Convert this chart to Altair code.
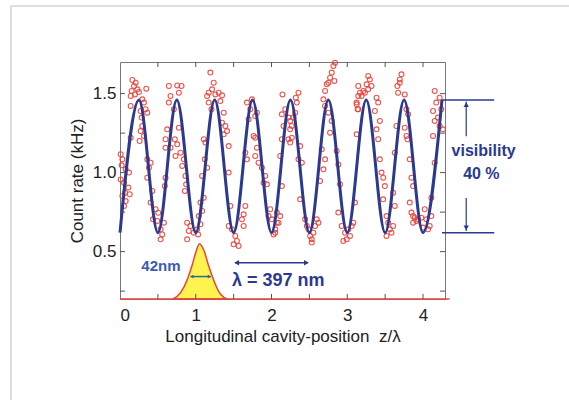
import altair as alt
import pandas as pd

FONT = "Liberation Sans"
NAVY = "#2b3990"
RED = "#e8433a"

# measured count rates (z/lambda, kHz)
count_points = [
    (0.163, 1.586), (0.207, 1.569), (0.185, 1.548), (0.229, 1.527), (0.154, 1.517), (0.250, 1.510),
    (0.141, 1.485), (0.198, 1.495), (0.347, 1.531), (0.294, 1.464), (0.316, 1.443), (0.141, 1.422),
    (0.338, 1.401), (0.272, 1.390), (0.360, 1.379), (0.286, 1.348), (0.294, 1.295), (0.272, 1.263),
    (0.316, 1.232), (0.259, 1.200), (0.009, 1.116), (0.031, 1.084), (0.022, 1.046), (0.075, 1.021),
    (0.009, 0.957), (0.053, 0.936), (0.110, 0.905), (0.066, 0.873), (0.031, 0.852), (0.075, 0.820),
    (0.128, 0.863), (0.141, 1.221), (0.053, 0.789), (0.119, 1.000), (0.360, 1.084), (0.404, 1.063),
    (0.382, 1.031), (0.360, 0.968), (0.426, 0.884), (0.404, 0.810), (0.470, 0.768), (0.505, 0.746),
    (0.435, 0.704), (0.492, 0.694), (0.536, 0.641), (0.579, 0.683), (0.557, 0.609), (0.536, 0.578),
    (0.645, 1.548), (0.755, 1.552), (0.812, 1.548), (0.667, 1.485), (0.777, 1.506), (0.645, 1.443),
    (0.711, 1.401), (0.623, 1.274), (0.777, 1.284), (0.601, 1.211), (0.724, 1.211), (0.755, 1.179),
    (0.667, 1.158), (0.733, 1.105), (0.799, 1.126), (0.843, 1.084), (0.821, 1.042), (0.864, 0.979),
    (0.873, 0.926), (0.856, 0.884), (0.601, 1.158), (0.601, 0.968), (0.592, 0.915), (0.886, 0.683),
    (0.930, 0.662), (0.974, 0.620), (0.908, 0.631), (0.886, 0.578),
    (1.018, 0.641), (1.062, 0.673), (1.040, 0.725), (1.084, 0.757), (1.031, 0.609), (1.062, 0.810),
    (1.106, 0.841), (1.084, 0.979), (1.119, 1.084), (1.150, 1.031), (1.128, 1.190), (1.106, 1.211),
    (1.171, 1.506), (1.193, 1.633), (1.237, 1.569), (1.215, 1.527), (1.150, 1.485), (1.171, 1.443),
    (1.207, 1.401), (1.259, 1.495), (1.303, 1.506), (1.347, 1.489), (1.325, 1.453), (1.369, 1.379),
    (1.347, 1.316), (1.391, 1.295), (1.413, 1.263), (1.435, 1.168), (1.369, 1.242), (1.435, 1.000),
    (1.457, 0.789), (1.435, 0.662), (1.478, 0.641), (1.522, 0.599), (1.544, 0.567), (1.500, 0.546),
    (1.566, 0.536), (1.632, 0.662), (1.654, 0.789), (1.632, 0.736), (1.610, 0.704), (1.676, 1.443),
    (1.720, 1.401), (1.698, 1.337), (1.742, 1.464), (1.785, 1.358), (1.764, 1.232), (1.807, 1.158),
    (1.785, 1.105), (1.829, 1.063), (1.873, 1.031), (1.917, 0.979), (1.939, 0.926), (1.895, 0.936),
    (1.654, 1.126), (1.676, 1.084), (1.785, 1.221), (1.807, 1.379), (1.983, 0.768), (2.005, 0.704),
    (2.049, 0.641), (2.027, 0.609), (2.071, 0.683), (1.961, 0.725),
    (2.071, 0.747), (2.093, 0.683), (2.049, 0.620), (2.115, 0.725), (2.137, 0.915), (2.115, 1.105),
    (2.137, 1.211), (2.159, 1.295), (2.137, 1.369), (2.145, 1.495), (2.181, 1.401), (2.224, 1.348),
    (2.246, 1.327), (2.268, 1.295), (2.290, 1.348), (2.312, 1.379), (2.334, 1.443), (2.356, 1.506),
    (2.321, 1.474), (2.246, 1.190), (2.224, 1.211), (2.246, 1.274), (2.268, 1.221), (2.378, 1.168),
    (2.400, 1.063), (2.356, 1.084), (2.378, 0.831), (2.444, 0.704), (2.466, 0.662), (2.488, 0.641),
    (2.510, 0.599), (2.531, 0.578), (2.553, 0.620), (2.575, 0.662), (2.597, 0.704), (2.619, 0.683),
    (2.531, 0.557), (2.707, 1.517), (2.729, 1.559), (2.751, 1.569), (2.773, 1.601), (2.795, 1.633),
    (2.817, 1.675), (2.838, 1.696), (2.830, 1.580), (2.685, 1.464), (2.707, 1.422), (2.751, 1.379),
    (2.795, 1.327), (2.773, 1.253), (2.663, 1.147), (2.707, 1.084), (2.685, 1.021), (2.641, 0.947),
    (2.860, 1.137), (2.882, 1.052), (2.904, 0.926), (2.882, 0.747), (2.926, 0.662), (2.970, 0.620),
    (2.992, 0.578), (2.948, 0.567), (3.014, 0.641), (3.058, 0.662), (3.080, 0.683), (3.036, 0.599),
    (3.102, 0.810), (3.124, 1.242), (3.137, 1.401), (3.124, 1.432), (3.145, 1.485),
    (3.145, 1.548), (3.167, 1.506), (3.123, 1.443), (3.145, 1.401), (3.189, 1.485), (3.211, 1.517),
    (3.255, 1.559), (3.276, 1.612), (3.298, 1.590), (3.276, 1.527), (3.320, 1.548), (3.233, 1.506),
    (3.386, 1.474), (3.408, 1.443), (3.364, 1.390), (3.430, 1.327), (3.386, 1.274), (3.408, 1.211),
    (3.430, 1.084), (3.452, 1.000), (3.474, 0.968), (3.496, 0.915), (3.474, 0.831), (3.518, 0.725),
    (3.540, 0.683), (3.562, 0.641), (3.518, 0.599), (3.583, 0.620), (3.605, 0.662), (3.627, 0.789),
    (3.605, 0.873), (3.627, 1.126), (3.649, 1.295), (3.671, 1.506), (3.662, 1.548), (3.693, 1.590),
    (3.715, 1.622), (3.693, 1.569), (3.759, 1.495), (3.781, 1.401), (3.803, 1.369), (3.759, 1.284),
    (3.781, 1.232), (3.794, 1.211), (3.825, 1.084), (3.847, 0.968), (3.869, 0.915), (3.825, 0.810),
    (3.847, 0.747), (3.869, 0.725), (3.890, 0.715), (3.912, 0.694), (3.869, 0.683), (3.934, 0.704),
    (3.978, 0.715), (4.022, 0.768), (4.044, 0.704), (4.000, 0.652), (4.066, 0.641), (4.088, 0.662),
    (4.110, 0.725), (4.110, 0.841), (4.154, 1.063), (4.132, 1.232), (4.154, 1.327), (4.132, 1.390),
    (4.175, 1.443), (4.154, 1.517), (4.219, 1.474), (4.241, 1.401), (4.219, 1.295), (4.197, 1.348),
    (4.263, 1.274),
]

# fitted curve: extrema
fit_x = [0.0, 0.25, 0.5, 0.75, 1.0, 1.25, 1.5, 1.75, 2.0, 2.25, 2.5, 2.75, 3.0, 3.25, 3.5, 3.75, 4.0, 4.25]
fit_y = [0.62, 1.46, 0.62, 1.46, 0.62, 1.46, 0.62, 1.46, 0.62, 1.46, 0.62, 1.46, 0.62, 1.46, 0.62, 1.46, 0.62, 1.46]

# wave-packet outline
packet_x = [0.70, 0.80, 0.89, 0.95, 1.00, 1.05, 1.11, 1.17, 1.24, 1.30, 1.37, 1.42]
packet_y = [0.20, 0.24, 0.325, 0.41, 0.495, 0.55, 0.505, 0.41, 0.315, 0.25, 0.21, 0.20]

x_label_values = [0, 1, 2, 3, 4]
y_label_values = [0.5, 1.0, 1.5]
x_tick_values = [0.5, 1.0, 1.5, 2.0, 2.5, 3.0, 3.5, 4.0]
y_tick_values = [0.25, 0.5, 0.75, 1.0, 1.25, 1.5]

X_MIN, X_MAX = 0.0, 4.29
Y_MIN, Y_MAX = 0.2, 1.7

xs = alt.Scale(domain=[X_MIN, X_MAX], nice=False, zero=False)
ys = alt.Scale(domain=[Y_MIN, Y_MAX], nice=False, zero=False)
x_title = "Longitudinal cavity-position\u00a0 z/λ"
y_title = "Count rate (kHz)"
x_axis = alt.Axis(values=x_label_values, format="d", ticks=False, domain=False, grid=False,
                  labelPadding=8, titlePadding=5)
y_axis = alt.Axis(values=y_label_values, format=".1f", ticks=False, domain=False, grid=False,
                  labelPadding=4, titlePadding=6)


def X(f):
    return alt.X(f, type="quantitative", scale=xs, axis=x_axis, title=x_title)


def Y(f):
    return alt.Y(f, type="quantitative", scale=ys, axis=y_axis, title=y_title)


pts_df = pd.DataFrame(count_points, columns=["z", "rate"])
fit_df = pd.DataFrame({"z": fit_x, "rate": fit_y})
packet_df = pd.DataFrame({"z": packet_x, "rate": packet_y, "base": [Y_MIN] * len(packet_x)})

# outer frame (decorative)
frame = alt.Chart(pd.DataFrame({"a": [0]})).mark_rect(
    fillOpacity=0, stroke="#d4d4d4", strokeWidth=1.5
).encode(x=alt.value(-109), x2=alt.value(500), y=alt.value(-56), y2=alt.value(400))

points = alt.Chart(pts_df).mark_point(
    shape="circle", filled=False, color=RED, size=24, strokeWidth=1.1, opacity=0.9
).encode(x=X("z"), y=Y("rate"))

fit = alt.Chart(fit_df).mark_line(
    interpolate="monotone", color=NAVY, strokeWidth=3
).encode(x=X("z"), y=Y("rate"))

packet = alt.Chart(packet_df).mark_area(
    interpolate="monotone", color="#fff34f", stroke=RED, strokeWidth=1.5
).encode(x=X("z"), y=Y("rate"), y2=alt.Y2("base"))

baseline = alt.Chart(pd.DataFrame({"z": [X_MIN], "z2": [4.35], "rate": [Y_MIN]})).mark_rule(
    color=RED, strokeWidth=1.5
).encode(x=X("z"), x2=alt.X2("z2"), y=Y("rate"))

# inward ticks
tick_len_x = 0.066
tick_len_y = 0.032
bt = pd.DataFrame({"z": x_tick_values, "r0": Y_MIN, "r1": Y_MIN + tick_len_y})
tt = pd.DataFrame({"z": x_tick_values, "r0": Y_MAX, "r1": Y_MAX - tick_len_y})
lt = pd.DataFrame({"rate": y_tick_values, "z0": X_MIN, "z1": X_MIN + tick_len_x})
rt = pd.DataFrame({"rate": y_tick_values, "z0": X_MAX, "z1": X_MAX - tick_len_x})
tick_style = dict(color="#555", strokeWidth=1)
ticks = (
    alt.Chart(bt).mark_rule(**tick_style).encode(x=X("z"), y=Y("r0"), y2=alt.Y2("r1"))
    + alt.Chart(tt).mark_rule(**tick_style).encode(x=X("z"), y=Y("r0"), y2=alt.Y2("r1"))
    + alt.Chart(lt).mark_rule(**tick_style).encode(y=Y("rate"), x=X("z0"), x2=alt.X2("z1"))
    + alt.Chart(rt).mark_rule(**tick_style).encode(y=Y("rate"), x=X("z0"), x2=alt.X2("z1"))
)

# visibility annotation
vis_lines = pd.DataFrame({"z": [4.25, 4.25], "z2": [4.94, 4.94], "rate": [1.46, 0.62]})
vis_arrows = pd.DataFrame({"z": [4.57, 4.57], "rate": [1.23, 0.84], "rate2": [1.45, 0.63]})
vis_heads_up = pd.DataFrame({"z": [4.57], "rate": [1.43]})
vis_heads_dn = pd.DataFrame({"z": [4.57], "rate": [0.65]})
ann_style = dict(color=NAVY, strokeWidth=1.5)
vis = (
    alt.Chart(vis_lines).mark_rule(**ann_style).encode(x=X("z"), x2=alt.X2("z2"), y=Y("rate"))
    + alt.Chart(vis_arrows).mark_rule(color=NAVY, strokeWidth=1.2).encode(x=X("z"), y=Y("rate"), y2=alt.Y2("rate2"))
    + alt.Chart(vis_heads_up).mark_point(shape="triangle-up", filled=True, color=NAVY, size=28, opacity=1).encode(x=X("z"), y=Y("rate"))
    + alt.Chart(vis_heads_dn).mark_point(shape="triangle-down", filled=True, color=NAVY, size=28, opacity=1).encode(x=X("z"), y=Y("rate"))
)

# wavelength arrow
lam_line = pd.DataFrame({"z": [1.52], "z2": [2.48], "rate": [0.43]})
lam_l = pd.DataFrame({"z": [1.54], "rate": [0.43]})
lam_r = pd.DataFrame({"z": [2.46], "rate": [0.43]})
lam = (
    alt.Chart(lam_line).mark_rule(color=NAVY, strokeWidth=1.5).encode(x=X("z"), x2=alt.X2("z2"), y=Y("rate"))
    + alt.Chart(lam_l).mark_point(shape="triangle-left", filled=True, color=NAVY, size=30, opacity=1).encode(x=X("z"), y=Y("rate"))
    + alt.Chart(lam_r).mark_point(shape="triangle-right", filled=True, color=NAVY, size=30, opacity=1).encode(x=X("z"), y=Y("rate"))
)

# 42 nm width arrow
TEAL = "#2f6a8c"
w_line = pd.DataFrame({"z": [0.93], "z2": [1.20], "rate": [0.342]})
w_l = pd.DataFrame({"z": [0.95], "rate": [0.342]})
w_r = pd.DataFrame({"z": [1.18], "rate": [0.342]})
width_arrow = (
    alt.Chart(w_line).mark_rule(color=TEAL, strokeWidth=1.5).encode(x=X("z"), x2=alt.X2("z2"), y=Y("rate"))
    + alt.Chart(w_l).mark_point(shape="triangle-left", filled=True, color=TEAL, size=14, opacity=1).encode(x=X("z"), y=Y("rate"))
    + alt.Chart(w_r).mark_point(shape="triangle-right", filled=True, color=TEAL, size=14, opacity=1).encode(x=X("z"), y=Y("rate"))
)

labels_df = pd.DataFrame({
    "z": [4.80, 4.77, 2.09, 0.54],
    "rate": [1.137, 0.99, 0.314, 0.407],
    "txt": ["visibility", "40 %", "λ = 397 nm", "42nm"],
    "size": [16, 16, 18, 15],
    "col": [NAVY, NAVY, NAVY, "#3a5cb0"],
})
labels = alt.Chart(labels_df).mark_text(
    font=FONT, fontWeight="bold", align="center", baseline="middle"
).encode(
    x=X("z"), y=Y("rate"), text="txt:N",
    size=alt.Size("size:Q", scale=None, legend=None),
    color=alt.Color("col:N", scale=None, legend=None),
)

chart = alt.layer(
    frame, packet, baseline, points, fit, ticks, vis, lam, width_arrow, labels
).properties(
    width=325, height=237,
    padding={"left": 120, "top": 62, "right": 124, "bottom": 101},
    autosize=alt.AutoSizeParams(type="none"),
    background="white",
).configure_view(
    stroke="#777", strokeWidth=1
).configure_axis(
    labelFont=FONT, titleFont=FONT, labelFontSize=17, titleFontSize=17,
    labelColor="#222", titleColor="#222", titleFontWeight="normal",
)

chart.save("out.html", embed_options={"renderer": "svg", "actions": False})
